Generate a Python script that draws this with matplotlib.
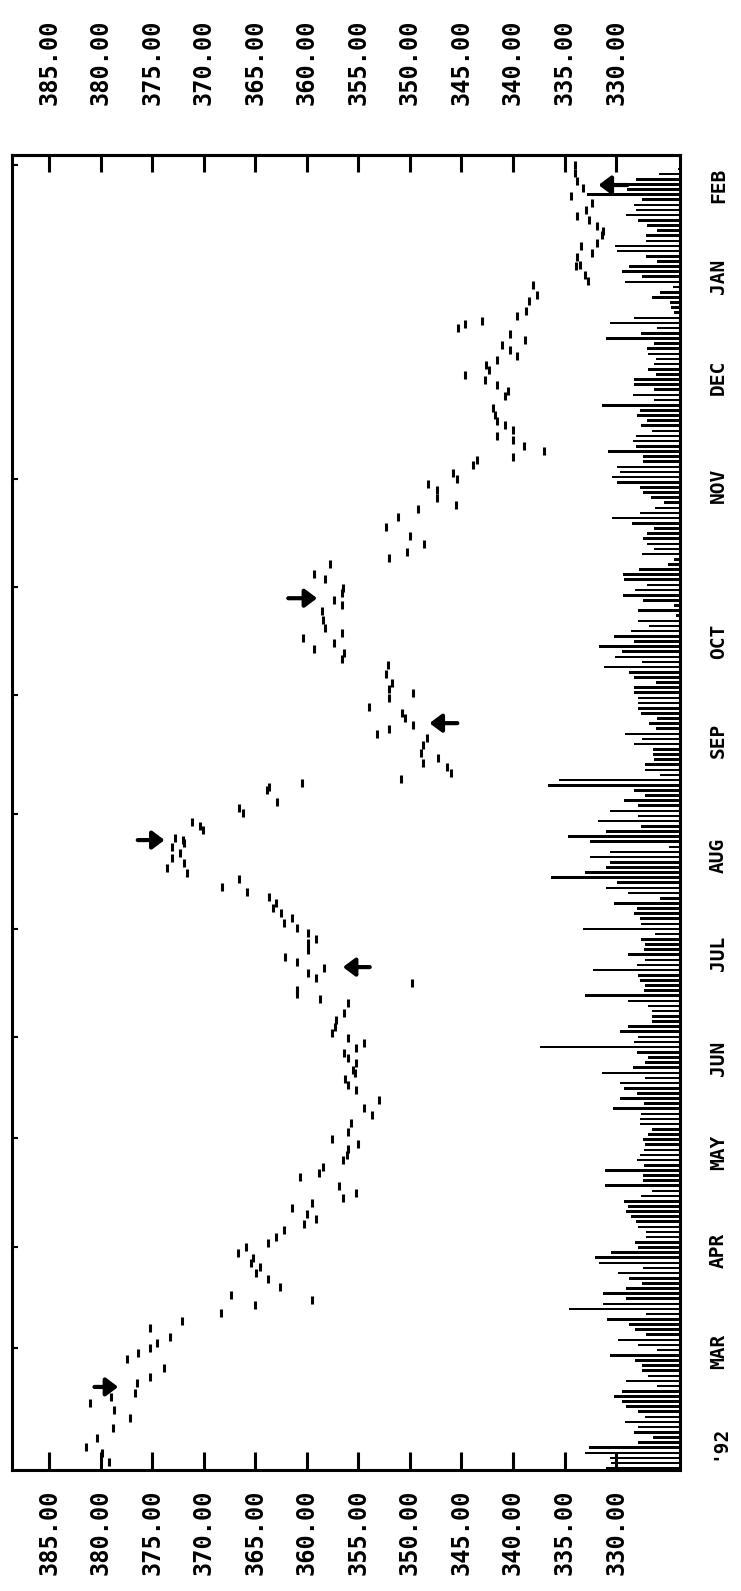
import numpy as np
import matplotlib
matplotlib.use('Agg')
import matplotlib.pyplot as plt

plt.rcParams['font.family'] = ['DejaVu Sans Mono']
plt.rcParams['font.weight'] = 'bold'

# value scale (ppm) and month axis (days from start of record)
value_ticks = [330, 335, 340, 345, 350, 355, 360, 365, 370, 375, 380, 385]
value_labels = ['%.2f' % v for v in value_ticks]

month_names = ["'92", 'MAR', 'APR', 'MAY', 'JUN', 'JUL', 'AUG', 'SEP', 'OCT', 'NOV', 'DEC', 'JAN', 'FEB']
month_label_day = [0, 26, 55, 83, 110, 140, 168, 201, 229.5, 274, 305, 334, 360]
month_start_day = [0, 27, 56, 87, 116, 147, 180, 214, 245, 276, 305, 334, 366]

# daily readings
obs_day = [365.9, 363.6, 361.3, 359.3, 357.0, 355.0, 353.0, 351.3, 350.2, 348.4, 347.0, 345.8, 343.6, 342.7, 340.7, 339.5, 337.0, 337.2, 334.4, 332.7,
           331.6, 328.7, 326.9, 324.1, 322.6, 321.2, 319.2, 320.3, 317.5, 315.8, 314.3, 312.9, 311.2, 310.0, 308.6, 307.2, 305.7, 304.3, 302.9, 301.1, 299.7, 296.3, 294.3,
           292.6, 291.4, 290.0, 288.3, 287.1, 285.4, 284.0, 282.2, 281.4, 279.9, 277.7, 275.9, 268.5,
           274.5, 272.8, 270.5, 267.3, 265.0, 262.2, 259.6, 257.3, 255.0, 253.3, 251.6, 248.7, 247.3, 244.7, 243.3, 241.3, 239.8, 238.1,
           235.5, 233.2, 231.8, 230.4, 228.9, 227.2, 226.1, 224.4, 222.6, 220.1, 217.5, 215.8, 214.6, 213.2, 210.6, 208.9, 207.4, 205.4, 204.3, 202.9,
           201.7, 199.7, 197.4, 196.0, 194.6, 193.4, 191.7, 190.0, 188.8, 187.7, 186.8, 183.4, 181.7, 180.2, 177.7, 176.5, 175.4, 173.1, 172.5,
           171.6, 170.5, 168.8, 167.3, 165.9, 164.5, 163.0, 161.3, 159.0, 157.6, 156.2, 154.4, 153.0, 151.6, 150.1, 148.7, 147.3, 145.8, 144.1, 143.0,
           141.0, 139.0, 137.5, 135.8, 134.4, 133.0, 131.5, 129.5, 128.4, 126.9, 125.8, 122.9, 120.9, 118.9, 117.2, 115.8, 114.3, 112.9, 111.5, 110.0, 108.6, 106.6,
           105.7, 104.0, 102.3, 100.9, 98.0, 95.7, 93.7, 91.4, 88.8, 86.8, 85.4, 84.0, 82.2, 80.8, 78.8, 77.1, 75.9, 73.4, 71.3, 69.9,
           68.5, 67.0, 65.3, 63.9, 62.5, 60.7, 58.7, 57.0, 55.9, 54.2, 52.7, 51.3, 50.1, 48.4, 46.7, 44.4, 42.1, 40.7, 39.3,
           37.0, 34.7, 32.7, 30.1, 28.4, 26.9, 25.5, 23.8, 21.2, 18.6, 16.9, 14.0, 12.9, 11.2, 9.2, 6.9, 4.0, 1.1, -1.4, -3.2, -5.7]
obs_ppm = [334.0, 334.0, 333.8, 333.2, 334.4, 332.3, 332.9, 333.8, 332.6, 331.9, 331.3, 331.4, 331.9, 333.4, 332.3, 333.8, 333.9, 333.5, 333.0, 332.7,
           338.1, 337.7, 338.4, 338.7, 339.6, 343.0, 345.3, 344.7, 340.3, 338.8, 341.1, 340.3, 339.6, 341.6, 342.6, 342.3, 344.7, 342.7, 341.6, 340.5, 340.8, 341.9, 341.7,
           341.6, 340.8, 340.0, 341.6, 340.0, 338.9, 337.0, 340.0, 343.5, 343.9, 345.8, 345.4, 345.5,
           348.2, 347.4, 347.4, 349.2, 351.2, 352.3, 350.0, 348.6, 350.3, 352.0, 357.8, 359.3, 358.2, 356.5, 356.6, 357.4, 356.6, 358.5,
           358.4, 358.2, 356.6, 360.4, 357.4, 359.3, 356.4, 356.6, 352.1, 352.3, 351.7, 352.0, 349.7, 352.0, 354.0, 350.8, 350.5, 349.7, 352.0, 353.2,
           348.3, 348.7, 348.9, 347.3, 348.7, 346.4, 346.0, 350.9, 360.5, 363.7, 363.9, 362.9, 366.6, 366.2, 371.1, 370.4, 370.1, 372.8, 372.0,
           371.9, 373.1, 372.3, 373.1, 371.9, 373.6, 371.6, 366.6, 368.2, 365.8, 363.7, 363.0, 363.3, 362.5, 361.4, 362.2, 361.0, 359.9, 359.1, 359.9,
           359.9, 362.1, 361.0, 358.3, 359.9, 359.1, 349.8, 361.0, 361.0, 358.7, 356.0, 356.4, 357.2, 357.3, 357.6, 356.0, 354.5, 355.2, 356.4, 356.0, 355.2, 355.5,
           355.3, 356.3, 356.0, 355.2, 353.0, 354.5, 353.7, 355.7, 356.0, 357.6, 355.0, 356.0, 356.1, 356.5, 358.4, 358.8, 360.7, 356.9, 355.2, 356.5,
           359.5, 361.4, 360.0, 359.1, 360.3, 362.2, 363.0, 363.8, 365.9, 366.7, 365.2, 365.4, 364.5, 364.9, 363.8, 362.6, 367.4, 359.5, 365.0,
           368.3, 372.1, 375.2, 373.3, 374.5, 375.2, 376.4, 377.4, 373.9, 375.2, 376.5, 376.7, 379.0, 381.0, 378.7, 377.2, 378.8, 380.4, 381.4, 379.9, 379.2]

# marked turning points
arrow_day = [15.8, 136.1, 172.5, 206.0, 241.8, 360.2]
arrow_tail = [380.6, 353.9, 376.4, 345.4, 361.8, 328.9]
arrow_head = [378.3, 356.5, 373.8, 348.1, 359.0, 331.7]

# bar series, latest first
rain = [0.2, 2.0, 4.3, 5.1, 5.1, 9.0, 3.7, 4.5, 4.3, 5.2, 4.1, 3.2, 2.2, 3.3, 3.3, 6.3, 6.1, 3.3, 2.2, 4.9,
        5.6, 3.7, 5.3, 0.7, 1.9, 2.7, 1.0, 0.9, 0.6, 4.5, 6.8, 2.2, 3.8, 7.2, 2.5, 3.2, 3.1, 2.3, 2.5, 3.1,
        2.3, 4.5, 4.5, 2.5, 4.6, 2.5, 7.6, 3.9, 4.2, 3.2, 3.8,
        2.7, 4.3, 4.6, 4.3, 7.0, 3.6, 3.6, 6.1, 5.8, 6.6, 6.1, 3.9, 3.6, 2.8, 1.6, 2.4, 3.9, 6.6, 4.7, 2.5,
        3.2, 3.6, 3.2, 2.5, 3.7, 0.6, 1.2, 4.0, 5.5, 5.4, 3.2, 4.4, 5.5, 3.6, 0.6, 4.1, 0.4, 4.1, 3.0, 4.8,
        6.4, 4.5, 7.9, 5.6, 6.3, 3.7, 7.4, 4.9, 4.5, 2.3, 4.5,
        4.5, 4.1, 4.1, 4.1, 3.8, 2.2, 3.0, 2.3, 5.3, 3.7, 4.5, 2.6, 2.6, 2.5, 3.4, 3.4, 1.9, 11.7, 12.8, 4.5,
        3.4, 5.4, 4.1, 6.8, 4.1, 8.0, 3.8, 7.2, 10.9, 8.7, 1.1, 6.8, 8.7, 6.8, 7.2, 9.2, 12.5, 6.1, 7.2, 5.0,
        1.9, 6.4, 4.2, 4.5, 3.9, 3.8, 9.4, 2.4, 3.8, 3.4,
        3.5, 5.0, 3.4, 4.2, 8.4, 4.1, 3.9, 3.4, 3.5, 9.2, 5.0, 3.1, 2.7, 2.7, 2.7, 5.0, 5.8, 4.1, 4.5, 13.6,
        4.2, 3.1, 3.4, 4.6, 7.6, 3.4, 5.8, 5.4, 4.2, 5.8, 3.5, 6.5, 3.8, 3.9, 3.9, 2.7, 3.1, 3.6, 3.4, 3.5,
        3.9, 4.2, 3.5, 7.3, 3.6, 3.6, 7.3, 2.7, 3.8, 5.4, 5.0,
        5.2, 4.8, 4.3, 4.1, 3.3, 3.3, 4.4, 4.1, 6.7, 8.2, 7.9, 3.6, 6.0, 4.9, 3.7, 5.2, 7.5, 5.2, 7.5, 10.8,
        3.3, 7.1, 4.9, 4.4, 3.3, 6.0, 4.1, 2.2, 6.8, 4.4, 3.7, 3.7, 3.1, 5.2, 2.2, 5.6, 6.4, 5.6, 5.2, 4.1,
        3.4, 5.3, 4.1, 4.5, 2.6, 4.1, 8.8, 9.2, 6.8, 6.7, 7.2]
rain = rain[::-1]

BASE = 323.8
LW = 2.2

fig = plt.figure(figsize=(7.41, 15.91), dpi=100)
ax = fig.add_axes([12 / 741, 121 / 1591, 668 / 741, 1315 / 1591])
ax.set_xlim(388.6, BASE)
ax.set_ylim(-8.0, 368.8)

bar_day = np.linspace(-7.5, 364.8, len(rain))
ax.barh(bar_day, rain, left=BASE, height=0.75, color='black', linewidth=0)

ax.plot(obs_ppm, obs_day, ls='none', marker='|', ms=5.5, mew=2.2, color='black')

for d, a, b in zip(arrow_day, arrow_tail, arrow_head):
    ax.annotate('', xy=(b, d), xytext=(a, d),
                arrowprops=dict(arrowstyle='-|>,head_length=0.6,head_width=0.45',
                                lw=3.0, color='black', mutation_scale=12,
                                shrinkA=0, shrinkB=0))

for s in ax.spines.values():
    s.set_linewidth(LW)

# value axis, labelled below and above the frame
ax.set_xticks(value_ticks, value_labels)
ax.tick_params(axis='x', direction='in', length=13, width=LW, bottom=True, top=False,
               labelrotation=90, labelsize=17, pad=14)
top = ax.secondary_xaxis('top')
top.set_xticks(value_ticks, value_labels)
top.tick_params(axis='x', direction='in', length=12, width=LW,
                labelrotation=90, labelsize=17, pad=36)
top.spines['top'].set_linewidth(LW)

# month axis: small marks on the left, names on the right
ax.set_yticks(month_label_day, month_names)
ax.set_yticks(month_start_day, minor=True)
ax.tick_params(axis='y', which='major', left=False, right=True, length=0,
               labelleft=False, labelright=True, labelrotation=90, labelsize=14, pad=21)
ax.tick_params(axis='y', which='minor', left=True, right=False, direction='in',
               length=4, width=1.5)
for lab in ax.get_yticklabels():
    lab.set_va('center')

fig.savefig('out.png', dpi=100)
